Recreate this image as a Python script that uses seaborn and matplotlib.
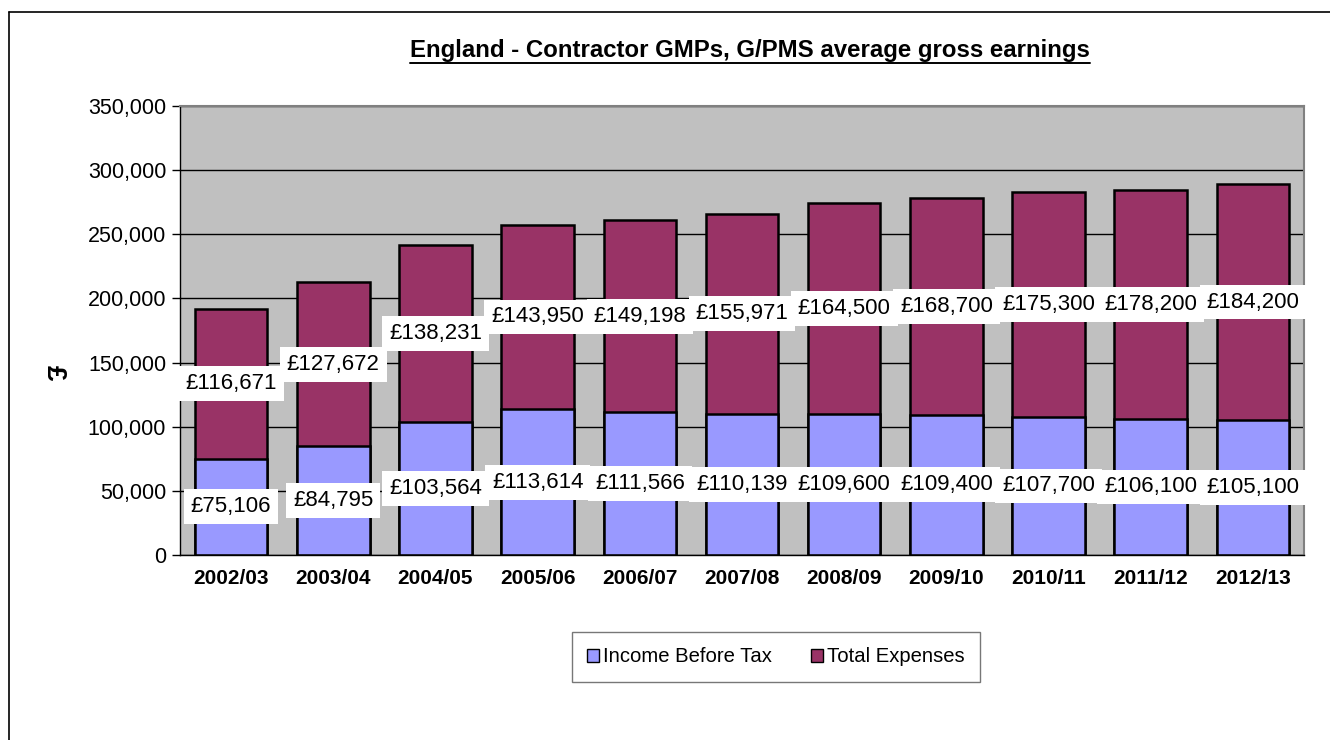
import matplotlib
matplotlib.use("Agg")
import matplotlib.pyplot as plt
import matplotlib.patches as mpatches
import seaborn as sns
import pandas as pd
import numpy as np

years = ["2002/03", "2003/04", "2004/05", "2005/06", "2006/07", "2007/08",
         "2008/09", "2009/10", "2010/11", "2011/12", "2012/13"]
income = [75106, 84795, 103564, 113614, 111566, 110139, 109600, 109400, 107700, 106100, 105100]
expenses = [116671, 127672, 138231, 143950, 149198, 155971, 164500, 168700, 175300, 178200, 184200]

income_color = "#9999FF"
expense_color = "#993366"

sns.set_theme(style="white")
plt.rcParams['font.family'] = ['Liberation Sans', 'DejaVu Sans']
plt.rcParams['text.color'] = 'black'
plt.rcParams['axes.labelcolor'] = 'black'
plt.rcParams['xtick.color'] = 'black'
plt.rcParams['ytick.color'] = 'black'

df = pd.DataFrame({"year": years, "income": income, "expenses": expenses})
df["total"] = df["income"] + df["expenses"]

fig = plt.figure(figsize=(13.3, 7.4), dpi=100)
ax = fig.add_axes([180/1330, 1-555/740, (1304-180)/1330, (555-106)/740])
ax.set_facecolor("#C0C0C0")

ax.set_axisbelow(True)
ax.yaxis.grid(True, color="black", linewidth=1.0)

sns.barplot(data=df, x="year", y="total", color=expense_color, width=0.71,
            edgecolor="black", linewidth=1.8, saturation=1, ax=ax)
sns.barplot(data=df, x="year", y="income", color=income_color, width=0.71,
            edgecolor="black", linewidth=1.8, saturation=1, ax=ax)

ax.set_xlim(-0.5, len(years) - 0.5)
ax.set_ylim(0, 350000)
ax.set_yticks(np.arange(0, 350001, 50000))
ax.set_yticklabels([f"{v:,}" for v in range(0, 350001, 50000)], fontsize=15.5)

ax.set_xticks(range(len(years)))
ax.set_xticklabels(years, fontsize=15, fontweight="bold")
ax.tick_params(axis="x", length=0, pad=10)
ax.set_xticks(np.arange(-0.5, len(years), 1.0), minor=True)
ax.tick_params(axis="x", which="minor", length=6, width=1, color="black", direction="out")
ax.tick_params(axis="y", length=6, width=1, color="black", direction="out", left=True, pad=4)

ax.set_xlabel("")
ax.set_ylabel("£", fontsize=20, fontweight="bold", rotation=270, va="center", ha="center")
ax.yaxis.set_label_coords((54 - 180) / 1124, (555 - 373) / 449)

for side in ["top", "right"]:
    ax.spines[side].set_color("#808080")
    ax.spines[side].set_linewidth(1.5)
for side in ["left", "bottom"]:
    ax.spines[side].set_color("black")
    ax.spines[side].set_linewidth(1.0)

box = dict(facecolor="white", edgecolor="none", pad=5)
for i, (inc, exp) in enumerate(zip(income, expenses)):
    ax.text(i, inc / 2, f"£{inc:,}", ha="center", va="center", fontsize=16,
            bbox=box, zorder=5)
    ax.text(i, inc + exp / 2, f"£{exp:,}", ha="center", va="center", fontsize=16,
            bbox=box, zorder=5)

t = fig.text(750/1330, 1-50/740, "England - Contractor GMPs, G/PMS average gross earnings",
             ha="center", va="center", fontsize=17.3, fontweight="bold")
# underline title
fig.canvas.draw()
bb = t.get_window_extent()
fig.add_artist(plt.Line2D([bb.x0/1330, bb.x1/1330], [(bb.y0-1)/740, (bb.y0-1)/740],
                          color="black", linewidth=1.4, transform=fig.transFigure))

handles = [mpatches.Patch(facecolor=income_color, edgecolor="black", label="Income Before Tax"),
           mpatches.Patch(facecolor=expense_color, edgecolor="black", label="Total Expenses")]
leg = fig.legend(handles=handles, loc="center", bbox_to_anchor=(776/1330, 1-657/740),
                 ncol=2, fontsize=14.6, frameon=True, fancybox=False, edgecolor="#555555",
                 handlelength=0.6, handleheight=0.6, handletextpad=0.2, columnspacing=1.9,
                 borderpad=0.75)
leg.get_frame().set_linewidth(1.0)

# outer chart border (left and top edges visible)
fig.add_artist(plt.Line2D([9/1330, 9/1330], [0, 1-12/740], color="black", linewidth=1.2,
                          transform=fig.transFigure))
fig.add_artist(plt.Line2D([9/1330, 1], [1-12/740, 1-12/740], color="black", linewidth=1.2,
                          transform=fig.transFigure))

fig.savefig("out.png", dpi=100)
